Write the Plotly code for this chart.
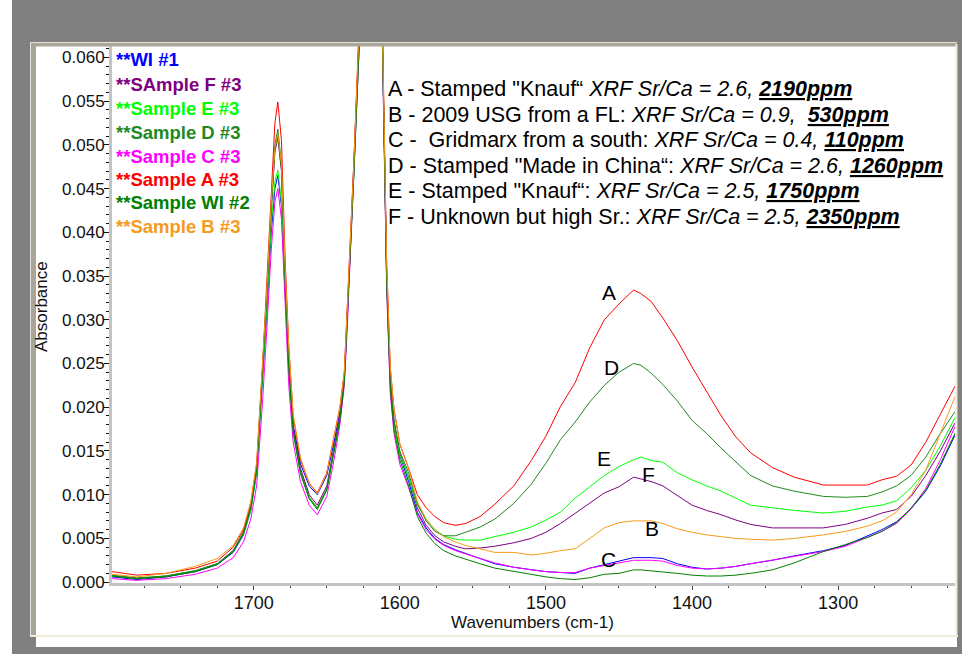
import plotly.graph_objects as go

# ---------------- data ----------------
wavenumber = [1797, 1780, 1760, 1740, 1725, 1714, 1707, 1702, 1698, 1694,
              1691, 1688, 1685.5, 1683.5, 1681, 1678.5, 1676, 1673, 1668, 1662,
              1656.5, 1650, 1645, 1641, 1638, 1636, 1634, 1631.5, 1628, 1624,
              1620, 1616, 1612, 1609, 1606.5, 1604, 1600, 1594, 1588, 1582,
              1576, 1570, 1562, 1555, 1545, 1535, 1522, 1510, 1500, 1490,
              1480, 1470, 1460, 1450, 1440, 1435, 1428, 1420, 1410, 1400,
              1390, 1380, 1370, 1360, 1345, 1330, 1310, 1295, 1280, 1270,
              1260, 1250, 1240, 1230, 1220]

abs_wi1 = [0.0006, 0.0003, 0.0006, 0.0012, 0.0020, 0.0034, 0.0054, 0.0082, 0.0125, 0.0225,
           0.0310, 0.0400, 0.0450, 0.0465, 0.0430, 0.0330, 0.0250, 0.0180, 0.0135, 0.0110,
           0.0100, 0.0122, 0.0160, 0.0195, 0.0235, 0.0300, 0.0380, 0.0470, 0.0620, 0.0770,
           0.0850, 0.0810, 0.0630, 0.0350, 0.0230, 0.0185, 0.0145, 0.0115, 0.0080, 0.0062,
           0.0050, 0.0043, 0.0037, 0.0033, 0.0027, 0.0021, 0.0017, 0.0014, 0.0012, 0.0011,
           0.0010, 0.0016, 0.0020, 0.0024, 0.0028, 0.0028, 0.0028, 0.0027, 0.0021, 0.0017,
           0.0015, 0.0016, 0.0018, 0.0021, 0.0025, 0.0030, 0.0036, 0.0042, 0.0053, 0.0060,
           0.0069, 0.0084, 0.0104, 0.0133, 0.0168]

abs_f = [0.0007, 0.0004, 0.0007, 0.0013, 0.0021, 0.0036, 0.0057, 0.0085, 0.0128, 0.0235,
         0.0325, 0.0425, 0.0492, 0.0508, 0.0470, 0.0345, 0.0250, 0.0178, 0.0130, 0.0100,
         0.0088, 0.0110, 0.0152, 0.0190, 0.0232, 0.0300, 0.0380, 0.0470, 0.0620, 0.0770,
         0.0850, 0.0810, 0.0632, 0.0350, 0.0228, 0.0183, 0.0147, 0.0120, 0.0085, 0.0065,
         0.0053, 0.0046, 0.0041, 0.0038, 0.0039, 0.0041, 0.0045, 0.0050, 0.0057, 0.0067,
         0.0079, 0.0091, 0.0102, 0.0109, 0.0120, 0.0118, 0.0115, 0.0110, 0.0099, 0.0088,
         0.0082, 0.0077, 0.0071, 0.0066, 0.0062, 0.0062, 0.0062, 0.0066, 0.0073, 0.0079,
         0.0083, 0.0098, 0.0122, 0.0150, 0.0182]

abs_e = [0.0007, 0.0004, 0.0007, 0.0013, 0.0021, 0.0035, 0.0055, 0.0082, 0.0125, 0.0228,
         0.0315, 0.0410, 0.0458, 0.0471, 0.0435, 0.0330, 0.0240, 0.0170, 0.0125, 0.0096,
         0.0084, 0.0106, 0.0148, 0.0185, 0.0228, 0.0295, 0.0375, 0.0465, 0.0615, 0.0765,
         0.0845, 0.0805, 0.0630, 0.0345, 0.0225, 0.0180, 0.0145, 0.0120, 0.0088, 0.0072,
         0.0060, 0.0053, 0.0049, 0.0048, 0.0048, 0.0052, 0.0057, 0.0063, 0.0071, 0.0080,
         0.0096, 0.0109, 0.0122, 0.0132, 0.0140, 0.0143, 0.0139, 0.0137, 0.0125, 0.0117,
         0.0110, 0.0104, 0.0096, 0.0088, 0.0085, 0.0082, 0.0079, 0.0081, 0.0086, 0.0088,
         0.0093, 0.0108, 0.0128, 0.0156, 0.0188]

abs_d = [0.0008, 0.0005, 0.0007, 0.0013, 0.0021, 0.0036, 0.0057, 0.0086, 0.0130, 0.0238,
         0.0330, 0.0430, 0.0500, 0.0518, 0.0478, 0.0350, 0.0250, 0.0175, 0.0127, 0.0097,
         0.0085, 0.0107, 0.0150, 0.0187, 0.0230, 0.0298, 0.0378, 0.0468, 0.0618, 0.0768,
         0.0848, 0.0808, 0.0632, 0.0350, 0.0230, 0.0185, 0.0150, 0.0125, 0.0090, 0.0070,
         0.0058, 0.0053, 0.0053, 0.0057, 0.0063, 0.0072, 0.0090, 0.0112, 0.0136, 0.0163,
         0.0183, 0.0206, 0.0225, 0.0240, 0.0250, 0.0248, 0.0239, 0.0226, 0.0207, 0.0185,
         0.0170, 0.0153, 0.0137, 0.0122, 0.0110, 0.0104, 0.0098, 0.0097, 0.0098, 0.0103,
         0.0110, 0.0122, 0.0143, 0.0170, 0.0195]

abs_c = [0.0004, 0.0002, 0.0004, 0.0009, 0.0016, 0.0028, 0.0046, 0.0072, 0.0110, 0.0205,
         0.0290, 0.0380, 0.0435, 0.0450, 0.0415, 0.0310, 0.0225, 0.0160, 0.0115, 0.0088,
         0.0077, 0.0098, 0.0140, 0.0180, 0.0225, 0.0290, 0.0370, 0.0460, 0.0610, 0.0760,
         0.0840, 0.0800, 0.0620, 0.0335, 0.0215, 0.0170, 0.0135, 0.0108, 0.0078, 0.0060,
         0.0049, 0.0042, 0.0036, 0.0032, 0.0027, 0.0022, 0.0017, 0.0014, 0.0012, 0.0011,
         0.0011, 0.0016, 0.0019, 0.0022, 0.0025, 0.0025, 0.0025, 0.0024, 0.0019, 0.0016,
         0.0015, 0.0016, 0.0018, 0.0021, 0.0025, 0.0029, 0.0035, 0.0041, 0.0051, 0.0058,
         0.0067, 0.0084, 0.0107, 0.0140, 0.0178]

abs_a = [0.0012, 0.0008, 0.0010, 0.0016, 0.0024, 0.0040, 0.0060, 0.0090, 0.0135, 0.0245,
         0.0345, 0.0450, 0.0525, 0.0549, 0.0505, 0.0370, 0.0270, 0.0190, 0.0140, 0.0113,
         0.0102, 0.0125, 0.0165, 0.0200, 0.0240, 0.0310, 0.0390, 0.0480, 0.0630, 0.0780,
         0.0860, 0.0820, 0.0645, 0.0365, 0.0245, 0.0198, 0.0158, 0.0130, 0.0100, 0.0085,
         0.0075, 0.0068, 0.0065, 0.0067, 0.0075, 0.0089, 0.0110, 0.0139, 0.0167, 0.0201,
         0.0228, 0.0268, 0.0300, 0.0318, 0.0334, 0.0330, 0.0321, 0.0302, 0.0276, 0.0246,
         0.0218, 0.0190, 0.0166, 0.0148, 0.0131, 0.0120, 0.0111, 0.0111, 0.0111, 0.0117,
         0.0121, 0.0134, 0.0160, 0.0192, 0.0224]

abs_wi2 = [0.0007, 0.0004, 0.0006, 0.0012, 0.0020, 0.0035, 0.0056, 0.0085, 0.0128, 0.0235,
           0.0328, 0.0428, 0.0495, 0.0512, 0.0472, 0.0345, 0.0245, 0.0172, 0.0124, 0.0095,
           0.0083, 0.0105, 0.0148, 0.0185, 0.0228, 0.0295, 0.0375, 0.0465, 0.0615, 0.0765,
           0.0845, 0.0805, 0.0625, 0.0340, 0.0220, 0.0175, 0.0140, 0.0110, 0.0075, 0.0056,
           0.0044, 0.0036, 0.0030, 0.0026, 0.0021, 0.0016, 0.0012, 0.0009, 0.0006, 0.0004,
           0.0003, 0.0005, 0.0009, 0.0010, 0.0014, 0.0014, 0.0013, 0.0012, 0.0010, 0.0008,
           0.0007, 0.0007, 0.0008, 0.0010, 0.0014, 0.0022, 0.0035, 0.0043, 0.0051, 0.0058,
           0.0068, 0.0085, 0.0105, 0.0135, 0.0170]

abs_b = [0.0009, 0.0006, 0.0010, 0.0018, 0.0027, 0.0042, 0.0062, 0.0092, 0.0137, 0.0245,
         0.0335, 0.0435, 0.0497, 0.0512, 0.0478, 0.0360, 0.0268, 0.0192, 0.0142, 0.0113,
         0.0101, 0.0125, 0.0165, 0.0200, 0.0240, 0.0308, 0.0388, 0.0478, 0.0628, 0.0778,
         0.0858, 0.0818, 0.0642, 0.0365, 0.0245, 0.0198, 0.0158, 0.0130, 0.0092, 0.0072,
         0.0060, 0.0052, 0.0046, 0.0042, 0.0038, 0.0034, 0.0034, 0.0031, 0.0033, 0.0036,
         0.0038, 0.0050, 0.0062, 0.0068, 0.0070, 0.0070, 0.0070, 0.0067, 0.0061, 0.0057,
         0.0054, 0.0052, 0.0050, 0.0049, 0.0048, 0.0050, 0.0054, 0.0058, 0.0064, 0.0070,
         0.0080, 0.0100, 0.0128, 0.0170, 0.0212]

series_names = ["**WI #1", "**SAmple F #3", "**Sample E #3", "**Sample D #3",
                "**Sample C #3", "**Sample A #3", "**Sample WI #2", "**Sample B #3"]
series_values = [abs_wi1, abs_f, abs_e, abs_d, abs_c, abs_a, abs_wi2, abs_b]
series_colors = ["#0000ff", "#800080", "#00ff00", "#1f8a1f",
                 "#ff00ff", "#ff0000", "#008000", "#f59a1b"]

notes = [
    'A - Stamped "Knauf\u201c <i>XRF Sr/Ca = 2.6, </i><b><i><u>2190ppm</u></i></b>',
    'B - 2009 USG from a FL: <i>XRF Sr/Ca = 0.9,  </i><b><i><u>530ppm</u></i></b>',
    'C -  Gridmarx from a south: <i>XRF Sr/Ca = 0.4, </i><b><i><u>110ppm</u></i></b>',
    'D - Stamped "Made in China\u201c: <i>XRF Sr/Ca = 2.6, </i><b><i><u>1260ppm</u></i></b>',
    'E - Stamped "Knauf\u201c: <i>XRF Sr/Ca = 2.5, </i><b><i><u>1750ppm</u></i></b>',
    'F - Unknown but high Sr.: <i>XRF Sr/Ca = 2.5, </i><b><i><u>2350ppm</u></i></b>',
]
curve_letters = ["A", "D", "E", "F", "B", "C"]

x_ticks = [1700, 1600, 1500, 1400, 1300]
y_ticks = [0.000, 0.005, 0.010, 0.015, 0.020, 0.025, 0.030,
           0.035, 0.040, 0.045, 0.050, 0.055, 0.060]

# ---------------- layout helpers (pixels -> paper) ----------------
W, H = 962, 654
L, R, T, B = 112, 955, 46, 583


def pxx(x):
    return (x - L) / (R - L)


def pxy(y):
    return (B - y) / (B - T)


FONT = "Liberation Sans, Arial, sans-serif"

fig = go.Figure()
for name, vals, col in zip(series_names, series_values, series_colors):
    fig.add_trace(go.Scatter(x=wavenumber, y=vals, mode="lines", name=name,
                             line=dict(color=col, width=1), showlegend=False,
                             hoverinfo="skip"))

shapes = []


def rect(x0, y0, x1, y1, fill, layer="below"):
    shapes.append(dict(type="rect", xref="paper", yref="paper",
                       x0=pxx(x0), x1=pxx(x1), y0=pxy(y0), y1=pxy(y1),
                       fillcolor=fill, line=dict(width=0), layer=layer))


def hline(x0, x1, y, color, w=1, layer="above"):
    shapes.append(dict(type="line", xref="paper", yref="paper",
                       x0=pxx(x0), x1=pxx(x1), y0=pxy(y), y1=pxy(y),
                       line=dict(color=color, width=w), layer=layer))


def vline(x, y0, y1, color, w=1, layer="above"):
    shapes.append(dict(type="line", xref="paper", yref="paper",
                       x0=pxx(x), x1=pxx(x), y0=pxy(y0), y1=pxy(y1),
                       line=dict(color=color, width=w), layer=layer))


# outer white strip and white panel
rect(0, 0, 12, 654, "#ffffff")
rect(36, 46, 957, 647, "#ffffff")
# frame bands
rect(30, 42, 957, 46.5, "#a9a598", layer="above")
rect(30, 42, 36, 636, "#a9a598", layer="above")
hline(30, 957, 42.5, "#e6e4d8", 1)
vline(30.5, 42, 636, "#e6e4d8", 1)
hline(30, 958, 636, "#eeecd9", 2)
vline(956.5, 44, 636, "#eeecd9", 2)

annotations = []
# sample name list
leg_y = [59, 84, 108, 132, 156, 179, 203, 226]
for name, col, yy in zip(series_names, series_colors, leg_y):
    annotations.append(dict(xref="paper", yref="paper", x=pxx(114), y=pxy(yy),
                            xanchor="left", yanchor="middle", showarrow=False,
                            text="<b>" + name + "</b>",
                            font=dict(family=FONT, size=18.5, color=col)))
# notes
for i, t in enumerate(notes):
    annotations.append(dict(xref="paper", yref="paper", x=pxx(386), y=pxy(89 + 25.6 * i),
                            xanchor="left", yanchor="middle", showarrow=False, text=t,
                            font=dict(family=FONT, size=21.5, color="#000000")))
# curve letters
letter_pos = [(609, 292), (611, 367), (604, 458), (648, 474), (652, 528), (608, 559)]
for ch, (lx, ly) in zip(curve_letters, letter_pos):
    annotations.append(dict(xref="paper", yref="paper", x=pxx(lx), y=pxy(ly),
                            xanchor="center", yanchor="middle", showarrow=False, text=ch,
                            font=dict(family=FONT, size=21, color="#000000")))
# axis titles
annotations.append(dict(xref="paper", yref="paper", x=pxx(532), y=pxy(622),
                        xanchor="center", yanchor="middle", showarrow=False,
                        text="Wavenumbers (cm-1)",
                        font=dict(family=FONT, size=17, color="#111111")))
annotations.append(dict(xref="paper", yref="paper", x=pxx(41), y=pxy(307),
                        xanchor="center", yanchor="middle", showarrow=False,
                        text="Absorbance", textangle=-90,
                        font=dict(family=FONT, size=17, color="#111111")))

fig.update_layout(
    width=W, height=H,
    margin=dict(l=L, r=W - R, t=T, b=H - B, pad=0),
    paper_bgcolor="#808080", plot_bgcolor="#ffffff",
    shapes=shapes, annotations=annotations,
    xaxis=dict(range=[1797, 1220], tickvals=x_ticks, ticktext=[str(v) for v in x_ticks],
               showgrid=False, zeroline=False, showline=True, linecolor="#c3c3c3",
               linewidth=3, ticks="outside", ticklen=4, tickcolor="#444444",
               ticklabelstandoff=-3,
               tickfont=dict(family=FONT, size=18, color="#111111"),
               minor=dict(dtick=25, tick0=1700, ticks="outside", ticklen=2,
                          tickcolor="#444444", showgrid=False)),
    yaxis=dict(range=[-0.0001, 0.0613], tickvals=y_ticks,
               ticktext=["%.3f" % v for v in y_ticks],
               showgrid=False, zeroline=False, showline=True, linecolor="#c3c3c3",
               linewidth=3, ticks="outside", ticklen=5, tickcolor="#111111",
               ticklabelstandoff=-4,
               tickfont=dict(family=FONT, size=17, color="#111111"),
               minor=dict(dtick=0.001, tick0=0, ticks="outside", ticklen=3,
                          tickcolor="#111111", showgrid=False)),
)

fig.write_html("out.html")
